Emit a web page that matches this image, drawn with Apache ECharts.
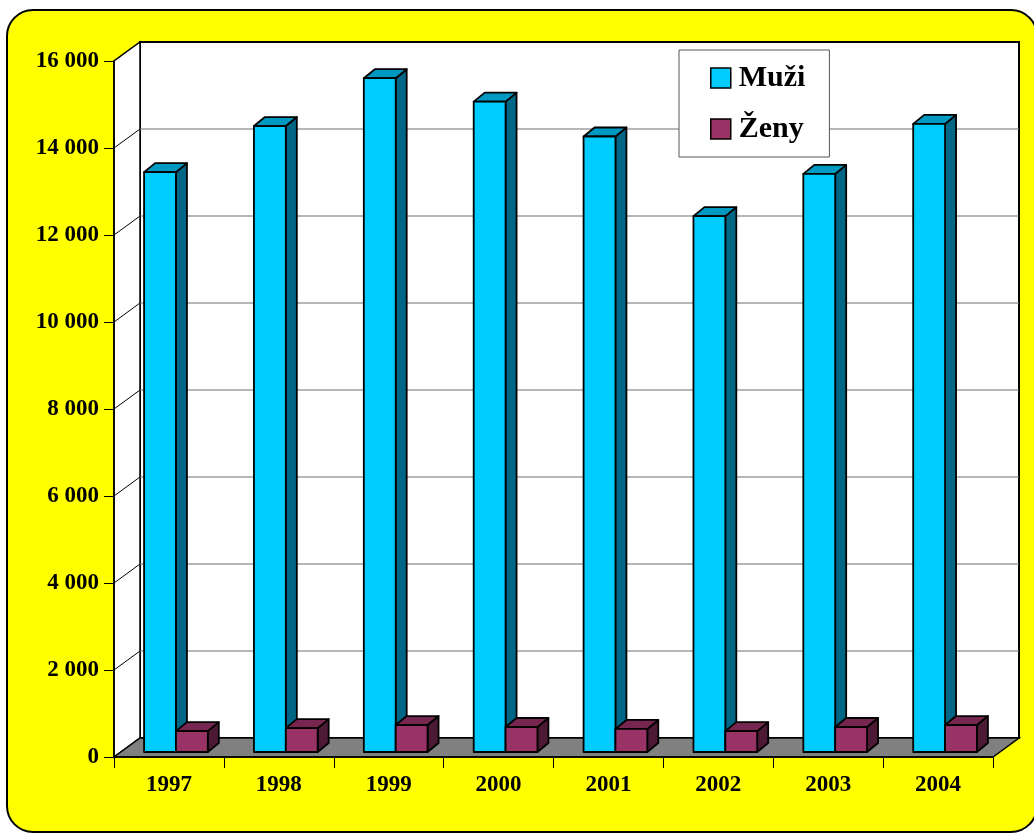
<!DOCTYPE html>
<html>
<head>
<meta charset="utf-8">
<script src="https://cdn.jsdelivr.net/npm/echarts@6/dist/echarts.min.js"></script>
<style>html,body{margin:0;padding:0;background:#fff;}#c{width:1034px;height:834px;}</style>
</head>
<body>
<div id="c"></div>
<script>
const categories = ['1997', '1998', '1999', '2000', '2001', '2002', '2003', '2004'];
const muzi = [13330, 14390, 15490, 14950, 14150, 12320, 13290, 14440];
const zeny = [480, 550, 620, 575, 530, 480, 575, 620];
const yTicks = [0, 2000, 4000, 6000, 8000, 10000, 12000, 14000, 16000];
const seriesNames = ['Muži', 'Ženy'];

const FONT = "'Liberation Serif', 'Times New Roman', serif";
const DX = 26, DY = -19;          // wall depth
const BAR_DX = 7, BAR_DY = -5;    // bar front plane offset
const BD_X = 11, BD_Y = -9;       // bar depth
const BAR_FRAC = 0.29;

const colors = {
  muzi: { front: '#00CCFF', top: '#0099C2', side: '#006685' },
  zeny: { front: '#993366', top: '#772650', side: '#4D1A36' }
};

function fmt(v) {
  if (v < 1000) return String(v);
  const r = v % 1000;
  return Math.floor(v / 1000) + ' ' + String(r).padStart(3, '0');
}

function barRender(which) {
  return function (params, api) {
    const i = api.value(0), v = api.value(1);
    const c = api.coord([i, v]);
    const b = api.coord([i, 0]);
    const bw = api.size([1, 0])[0];
    const w = bw * BAR_FRAC;
    const cx = c[0] + BAR_DX;
    const x0 = which === 'muzi' ? cx - w : cx;
    const x1 = x0 + w;
    const yT = c[1] + BAR_DY;
    const yB = b[1] + BAR_DY;
    const col = colors[which];
    const st = { stroke: '#000', lineWidth: 1.8, lineJoin: 'round' };
    return {
      type: 'group',
      children: [
        { type: 'polygon', shape: { points: [[x1, yT], [x1 + BD_X, yT + BD_Y], [x1 + BD_X, yB + BD_Y], [x1, yB]] }, style: Object.assign({ fill: col.side }, st) },
        { type: 'polygon', shape: { points: [[x0, yT], [x0 + BD_X, yT + BD_Y], [x1 + BD_X, yT + BD_Y], [x1, yT]] }, style: Object.assign({ fill: col.top }, st) },
        { type: 'rect', shape: { x: x0, y: yT, width: w, height: yB - yT }, style: Object.assign({ fill: col.front }, st) }
      ]
    };
  };
}

const chart = echarts.init(document.getElementById('c'), null, { renderer: 'canvas' });
chart.setOption({
  animation: false,
  backgroundColor: '#fff',
  graphic: [{
    type: 'rect', z: -100,
    shape: { x: 7, y: 10, width: 1030, height: 822, r: 26 },
    style: { fill: '#FFFF00', stroke: '#000', lineWidth: 2 }
  }],
  grid: { left: 114, right: 41, top: 61, bottom: 77, containLabel: false },
  legend: {
    data: [
      { name: seriesNames[0], icon: 'rect', itemStyle: { color: colors.muzi.front, borderColor: '#000', borderWidth: 1.5 } },
      { name: seriesNames[1], icon: 'rect', itemStyle: { color: colors.zeny.front, borderColor: '#000', borderWidth: 1.5 } }
    ],
    orient: 'vertical', left: 679, top: 50,
    itemWidth: 20, itemHeight: 20, itemGap: 21,
    padding: [13, 24, 13, 31],
    backgroundColor: '#fff', borderColor: '#555', borderWidth: 1,
    selectedMode: false, z: 10,
    textStyle: { fontFamily: FONT, fontWeight: 'bold', fontSize: 30, color: '#000', padding: [0, 0, 0, 3] }
  },
  xAxis: {
    type: 'category', data: categories, boundaryGap: true, z: 5,
    axisLine: { show: true, lineStyle: { color: '#000', width: 1.5 } },
    axisTick: { show: true, interval: 0, length: 11, lineStyle: { color: '#000', width: 1 } },
    axisLabel: { interval: 0, margin: 17, fontFamily: FONT, fontWeight: 'bold', fontSize: 23, color: '#000' },
    splitLine: { show: false }
  },
  yAxis: {
    type: 'value', min: 0, max: 16000, interval: 2000, z: 5,
    axisLine: { show: true, lineStyle: { color: '#000', width: 1.5 } },
    axisTick: { show: true, length: 10, lineStyle: { color: '#000', width: 1 } },
    axisLabel: { margin: 15, fontFamily: FONT, fontWeight: 'bold', fontSize: 23, color: '#000', formatter: fmt },
    splitLine: { show: false }
  },
  series: [
    {
      name: 'walls', type: 'custom', z: 1, silent: true, clip: false,
      data: [[0, 0]], encode: { x: 0, y: 1 },
      renderItem: function (params, api) {
        const cs = params.coordSys;
        const x0 = cs.x, x1 = cs.x + cs.width;
        const yB = api.coord([0, yTicks[0]])[1];
        const yT = api.coord([0, yTicks[yTicks.length - 1]])[1];
        return {
          type: 'group',
          children: [
            { type: 'rect', shape: { x: x0 + DX, y: yT + DY, width: x1 - x0, height: yB - yT }, style: { fill: '#fff', stroke: '#000', lineWidth: 2 } },
            { type: 'polygon', shape: { points: [[x0, yB], [x0, yT], [x0 + DX, yT + DY], [x0 + DX, yB + DY]] }, style: { fill: '#fff', stroke: '#000', lineWidth: 1.5 } },
            { type: 'polygon', shape: { points: [[x0, yB], [x1, yB], [x1 + DX, yB + DY], [x0 + DX, yB + DY]] }, style: { fill: '#808080', stroke: '#000', lineWidth: 1.5 } }
          ]
        };
      }
    },
    {
      name: 'gridlines', type: 'custom', z: 2, silent: true, clip: false,
      data: yTicks.slice(1, -1).map(v => [0, v]), encode: { x: 0, y: 1 },
      renderItem: function (params, api) {
        const cs = params.coordSys;
        const x0 = cs.x, x1 = cs.x + cs.width;
        const y = api.coord([0, api.value(1)])[1];
        return {
          type: 'group',
          children: [
            { type: 'line', shape: { x1: x0 + DX, y1: y + DY, x2: x1 + DX, y2: y + DY }, style: { stroke: '#6e6e6e', lineWidth: 1.2 } },
            { type: 'line', shape: { x1: x0, y1: y, x2: x0 + DX, y2: y + DY }, style: { stroke: '#000', lineWidth: 1 } }
          ]
        };
      }
    },
    {
      name: seriesNames[0], type: 'custom', z: 3, clip: false,
      itemStyle: { color: colors.muzi.front },
      data: muzi.map((v, i) => [i, v]), encode: { x: 0, y: 1 },
      renderItem: barRender('muzi')
    },
    {
      name: seriesNames[1], type: 'custom', z: 4, clip: false,
      itemStyle: { color: colors.zeny.front },
      data: zeny.map((v, i) => [i, v]), encode: { x: 0, y: 1 },
      renderItem: barRender('zeny')
    }
  ]
});
</script>
</body>
</html>
